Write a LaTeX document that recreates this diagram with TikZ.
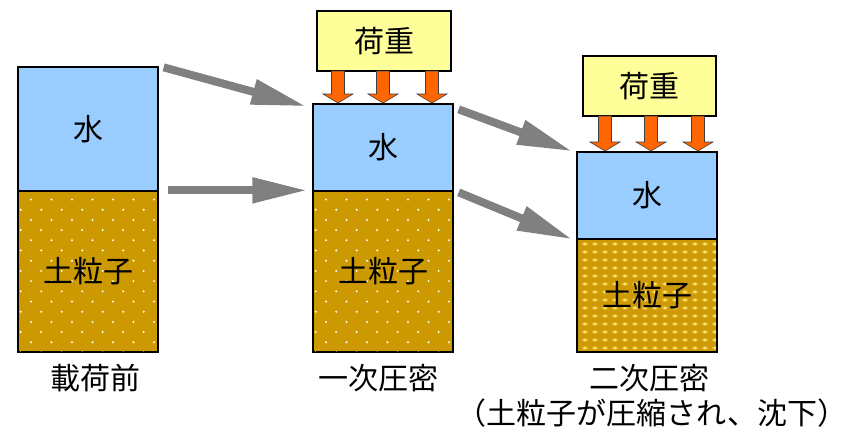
\documentclass[tikz,border=0pt]{standalone}
\usepackage{fontspec}
\setmainfont{Noto Sans CJK JP}
\usetikzlibrary{arrows.meta,calc}

\definecolor{water}{HTML}{99CCFF}
\definecolor{soil}{HTML}{CC9900}
\definecolor{soildense}{HTML}{CE9A08}
\definecolor{grain}{HTML}{EDC434}
\definecolor{grainhi}{HTML}{FFF3A0}
\definecolor{load}{HTML}{FFFF99}
\definecolor{force}{HTML}{FF6600}
\definecolor{flow}{HTML}{808080}

\tikzset{
  txt/.style={font=\fontsize{30}{32}\selectfont},
  layer/.style={draw=black, line width=1.3pt, inner sep=0pt, minimum width=140pt},
  waterbox/.style={layer, fill=water, txt},
  soilbox/.style={layer, fill=soil},
  loadbox/.style={draw=black, line width=1.3pt, fill=load, inner sep=0pt,
    minimum height=60pt, txt},
  lbl/.style={txt, inner sep=0pt},
  flowarrow/.style={draw=flow, line width=8pt, -{Triangle[length=55pt,width=24pt]}},
  forcearrow/.style={draw=black!75, line width=0.6pt, fill=force},
}

% a downward load arrow at x, from y-top to y-bottom
\newcommand\pressarrow[3]{%
  \filldraw[forcearrow] (#1-6.5,#2) -- (#1+6.5,#2) -- (#1+6.5,#3-9) -- (#1+15,#3-9)
    -- (#1,#3) -- (#1-15,#3-9) -- (#1-6.5,#3-9) -- cycle;}

% white grain dots inside a rectangle (x1,y1)-(x2,y2)
\newcommand\grains[4]{%
  \begin{scope}
    \clip (#1+1,#2+1) rectangle (#3-1,#4-1);
    \foreach \r in {0,...,17} {
      \pgfmathsetmacro\yy{#2+8.5+10.2*\r}
      \pgfmathsetmacro\xo{mod(\r,2)==0 ? 13 : 2.7}
      \foreach \c in {0,...,7} {
        \fill[white] ({#1+\xo+20.5*\c},\yy) circle (1.1pt);
      }
    }
  \end{scope}}

\begin{document}
\begin{tikzpicture}[x=1pt,y=-1pt]
\useasboundingbox (0,0) rectangle (850,432);

% --- before loading ---
\node[waterbox, minimum height=124pt] (w1) at (88,129) {水};
\node[soilbox, minimum height=161pt] (s1) at (88,271.5) {};
\grains{18}{191}{158}{352}
\node[lbl] at (s1) {土粒子};

% --- primary consolidation ---
\node[loadbox, minimum width=134pt] (L1) at (384,41) {荷重};
\node[waterbox, minimum height=87pt] (w2) at (383,147.5) {水};
\node[soilbox, minimum height=161pt] (s2) at (383,271.5) {};
\grains{313}{191}{453}{352}
\node[lbl] at (s2) {土粒子};
\pressarrow{338}{71}{103}
\pressarrow{383}{71}{103}
\pressarrow{432}{71}{103}

% --- secondary consolidation: compressed, denser grains ---
\node[loadbox, minimum width=133pt] (L2) at (649.5,86) {荷重};
\node[waterbox, minimum height=87pt] (w3) at (647,195.5) {水};
\node[soilbox, fill=soildense, minimum height=113pt] (s3) at (647,295.5) {};
\begin{scope}
  \clip (578,240) rectangle (716,351);
  \foreach \r in {0,...,14} {
    \pgfmathsetmacro\yy{244+8*\r}
    \foreach \c in {0,...,14} {
      \fill[grain] ({585+10*\c},\yy) ellipse (3pt and 1.7pt);
      \fill[grainhi] ({585+10*\c},\yy) ellipse (1.3pt and 0.9pt);
    }
  }
\end{scope}
\draw[black, line width=1.3pt] (s3.north west) rectangle (s3.south east);
\node[lbl] at (s3) {土粒子};
\pressarrow{605}{116}{151}
\pressarrow{651}{116}{151}
\pressarrow{698}{116}{151}

% --- flow between stages ---
\draw[flowarrow] ($(w1.north east)+(5,1)$) -- ($(w2.north west)+(-6,3)$);
\draw[flowarrow] ($(s1.north east)+(9,0)$) -- ($(s2.north west)+(-5,0)$);
\draw[flowarrow] ($(w2.north east)+(5,6)$) -- ($(w3.north west)+(-4,0)$);
\draw[flowarrow] ($(s2.north east)+(5,2)$) -- ($(s3.north west)+(-4,1)$);

% --- captions ---
\node[lbl] (c1) at (95,378) {載荷前};
\node[lbl] (c2) at (378,378) {一次圧密};
\node[lbl] (c3) at (649,378) {二次圧密};
\node[lbl] (c4) at (652,413) {（土粒子が圧縮され、沈下）};
\end{tikzpicture}
\end{document}
